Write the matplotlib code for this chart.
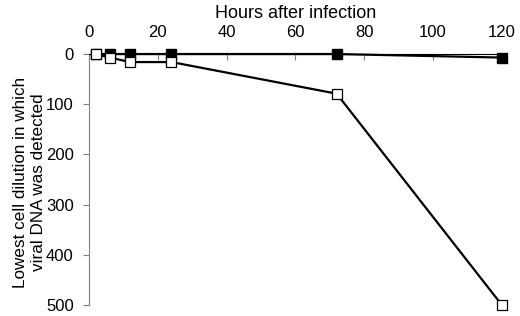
import matplotlib
matplotlib.use("Agg")
import matplotlib.pyplot as plt

plt.rcParams['font.family'] = ['Liberation Sans', 'DejaVu Sans']

# hours after infection
hours = [2, 6, 12, 24, 72, 120]
# lowest cell dilution where viral DNA was detected
filled_vals = [0, 0, 0, 0, 0, 7]
open_vals = [0, 7, 16, 16, 79, 500]

xticks = [0, 20, 40, 60, 80, 100, 120]
yticks = [0, 100, 200, 300, 400, 500]

fig = plt.figure(figsize=(5.2, 3.16), dpi=100)
ax = fig.add_axes([0.171, 0.035, 0.794, 0.794])

ax.plot(hours, filled_vals, color='black', lw=1.6, marker='s', ms=7,
        mfc='black', mec='black', zorder=3)
ax.plot(hours, open_vals, color='black', lw=1.6, marker='s', ms=7,
        mfc='white', mec='black', mew=0.9, zorder=4)

ax.set_xlim(0, 120)
ax.set_ylim(500, 0)
ax.set_xticks(xticks)
ax.set_yticks(yticks)

ax.xaxis.tick_top()
ax.xaxis.set_label_position('top')
ax.set_xlabel('Hours after infection', fontsize=13, labelpad=5)
ax.set_ylabel('Lowest cell dilution in which\nviral DNA was detected', fontsize=12.3,
              linespacing=1.2)
ax.yaxis.set_label_coords(-0.105, 0.49)

ax.spines['right'].set_visible(False)
ax.spines['bottom'].set_visible(False)
ax.spines['left'].set_color('#808080')
ax.spines['top'].set_color('black')
ax.tick_params(axis='y', direction='out', length=4, color='#808080', labelsize=12, pad=7)
ax.tick_params(axis='x', direction='in', length=4, color='#808080', labelsize=12, pad=10)

for s in ax.spines.values():
    s.set_clip_on(False)
for line in ax.lines:
    line.set_clip_on(False)

fig.savefig('out.png', dpi=100)
